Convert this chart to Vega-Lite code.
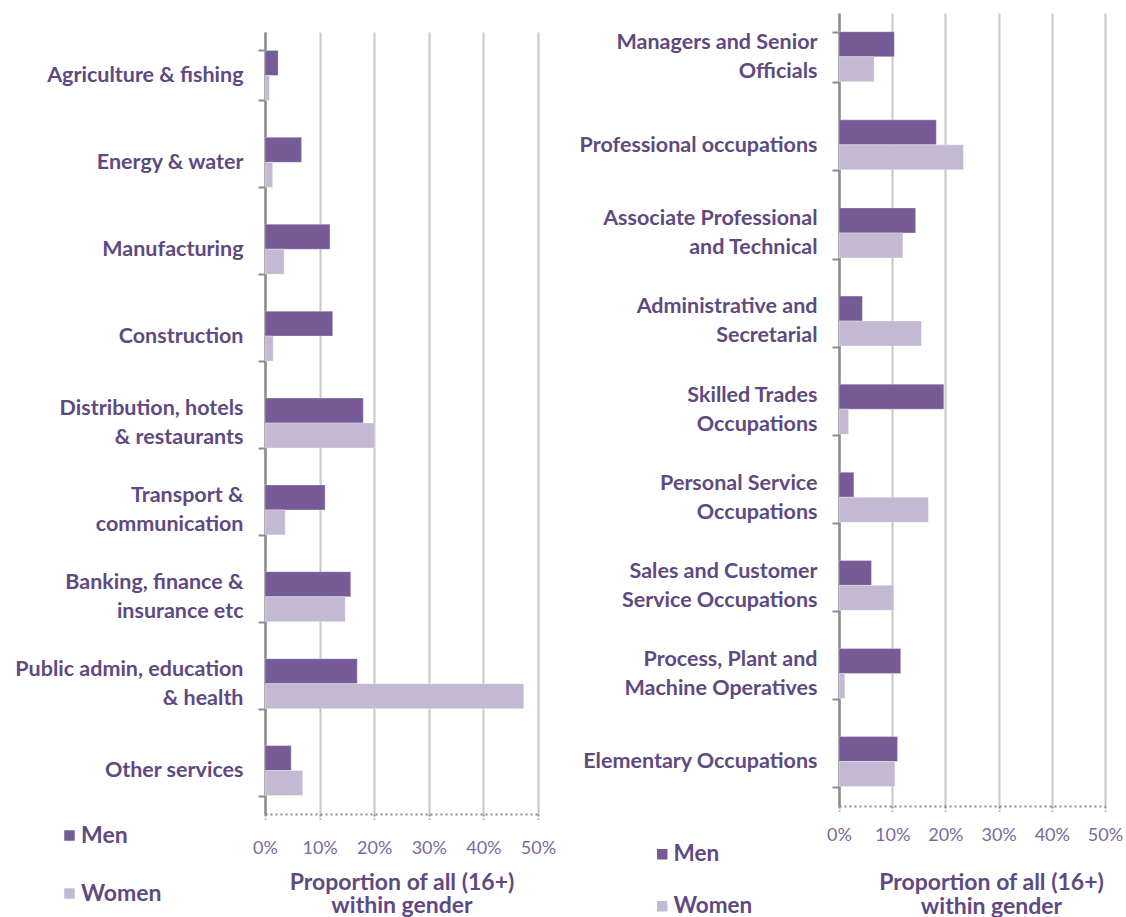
{
  "$schema": "https://vega.github.io/schema/vega-lite/v6.json",
  "padding": {"left": 14, "top": 2, "right": 0, "bottom": 0},
  "background": "white",
  "spacing": 23,
  "config": {
    "font": "Lato",
    "view": {"stroke": null},
    "legend": {"labelFont": "Lato"}
  },
  "resolve": {"legend": {"color": "independent"}, "scale": {"color": "independent"}},
  "datasets": {
    "industry": [
      {"cat": "Agriculture & fishing", "gender": "Men", "value": 0.024},
      {"cat": "Agriculture & fishing", "gender": "Women", "value": 0.008},
      {"cat": "Energy & water", "gender": "Men", "value": 0.067},
      {"cat": "Energy & water", "gender": "Women", "value": 0.014},
      {"cat": "Manufacturing", "gender": "Men", "value": 0.119},
      {"cat": "Manufacturing", "gender": "Women", "value": 0.035},
      {"cat": "Construction", "gender": "Men", "value": 0.124},
      {"cat": "Construction", "gender": "Women", "value": 0.015},
      {"cat": "Distribution, hotels|& restaurants", "gender": "Men", "value": 0.180},
      {"cat": "Distribution, hotels|& restaurants", "gender": "Women", "value": 0.201},
      {"cat": "Transport &|communication", "gender": "Men", "value": 0.110},
      {"cat": "Transport &|communication", "gender": "Women", "value": 0.037},
      {"cat": "Banking, finance &|insurance etc", "gender": "Men", "value": 0.157},
      {"cat": "Banking, finance &|insurance etc", "gender": "Women", "value": 0.147},
      {"cat": "Public admin, education|& health", "gender": "Men", "value": 0.169},
      {"cat": "Public admin, education|& health", "gender": "Women", "value": 0.474},
      {"cat": "Other services", "gender": "Men", "value": 0.048},
      {"cat": "Other services", "gender": "Women", "value": 0.069}
    ],
    "occupation": [
      {"cat": "Managers and Senior|Officials", "gender": "Men", "value": 0.104},
      {"cat": "Managers and Senior|Officials", "gender": "Women", "value": 0.066},
      {"cat": "Professional occupations", "gender": "Men", "value": 0.183},
      {"cat": "Professional occupations", "gender": "Women", "value": 0.234},
      {"cat": "Associate Professional|and Technical", "gender": "Men", "value": 0.144},
      {"cat": "Associate Professional|and Technical", "gender": "Women", "value": 0.120},
      {"cat": "Administrative and|Secretarial", "gender": "Men", "value": 0.044},
      {"cat": "Administrative and|Secretarial", "gender": "Women", "value": 0.155},
      {"cat": "Skilled Trades|Occupations", "gender": "Men", "value": 0.197},
      {"cat": "Skilled Trades|Occupations", "gender": "Women", "value": 0.018},
      {"cat": "Personal Service|Occupations", "gender": "Men", "value": 0.028},
      {"cat": "Personal Service|Occupations", "gender": "Women", "value": 0.168},
      {"cat": "Sales and Customer|Service Occupations", "gender": "Men", "value": 0.061},
      {"cat": "Sales and Customer|Service Occupations", "gender": "Women", "value": 0.103},
      {"cat": "Process, Plant and|Machine Operatives", "gender": "Men", "value": 0.116},
      {"cat": "Process, Plant and|Machine Operatives", "gender": "Women", "value": 0.011},
      {"cat": "Elementary Occupations", "gender": "Men", "value": 0.110},
      {"cat": "Elementary Occupations", "gender": "Women", "value": 0.105}
    ]
  },
  "hconcat": [
    {
      "spacing": 0,
      "vconcat": [
        {
          "width": 273,
          "height": 8,
          "data": {"values": [{"k": 1}]},
          "mark": {"type": "point", "opacity": 0, "size": 1},
          "encoding": {}
        },
        {
          "data": {"name": "industry"},
          "width": 273,
          "height": 782,
          "mark": {"type": "bar", "stroke": "white", "strokeWidth": 0.5, "strokeOpacity": 0.6},
          "encoding": {
            "y": {
              "field": "cat", "type": "nominal", "sort": null, "title": null,
              "scale": {"paddingInner": 0.425, "paddingOuter": 0.2125},
              "axis": {
                "labelExpr": "indexof(datum.label, '|') >= 0 ? [split(datum.label, '|')[0], '\u200b', split(datum.label, '|')[1]] : ['\u200b', datum.label]",
                "labelLineHeight": 14.5, "labelOffset": -14.5,
                "labelFont": "Lato", "labelFontSize": 21.5, "labelFontWeight": "bold",
                "labelColor": "#5e4a80", "labelPadding": 15, "labelLimit": 300,
                "tickBand": "extent", "tickSize": 7, "tickColor": "#8c8c8c", "tickWidth": 2,
                "domainColor": "#8c8c8c", "domainWidth": 2.5, "grid": false
              }
            },
            "yOffset": {"field": "gender", "type": "nominal", "sort": ["Men", "Women"], "scale": {"paddingInner": 0, "paddingOuter": 0}},
            "x": {
              "field": "value", "type": "quantitative",
              "scale": {"domain": [0, 0.5], "nice": false},
              "axis": {
                "values": [0, 0.1, 0.2, 0.3, 0.4, 0.5], "format": ".0%",
                "labelFlush": false, "labelOverlap": false,
                "title": ["Proportion of all (16+)", "within gender"],
                "titleFont": "Lato", "titleFontSize": 23, "titleFontWeight": "bold", "titleColor": "#5e4a80",
                "titleLineHeight": 23, "titlePadding": 14,
                "labelFont": "Lato", "labelFontSize": 18, "labelFontWeight": "normal", "labelColor": "#7a6a9c",
                "labelPadding": 20,
                "grid": true, "gridColor": "#c8c8c8", "gridWidth": 2,
                "domainColor": "#8c8c8c", "domainDash": [2, 3], "domainWidth": 2,
                "tickColor": "#8c8c8c", "tickDash": [2, 2], "tickSize": 5, "tickWidth": 2
              }
            },
            "color": {
              "field": "gender", "type": "nominal",
              "scale": {"domain": ["Men", "Women"], "range": ["#765b96", "#c4b9d3"]},
              "legend": {
                "title": null, "orient": "none", "legendX": -207, "legendY": 811,
                "symbolType": "square", "symbolSize": 110, "symbolStrokeWidth": 0,
                "labelFontSize": 23, "labelFontWeight": "bold", "labelColor": "#5e4a80",
                "rowPadding": 34, "labelOffset": 0
              }
            }
          }
        }
      ]
    },
    {
      "data": {"name": "occupation"},
      "width": 266,
      "height": 793,
      "mark": {"type": "bar", "stroke": "white", "strokeWidth": 0.5, "strokeOpacity": 0.6},
      "encoding": {
        "y": {
          "field": "cat", "type": "nominal", "sort": null, "title": null,
          "scale": {"paddingInner": 0.425, "paddingOuter": 0.2125},
          "axis": {
            "labelExpr": "indexof(datum.label, '|') >= 0 ? [split(datum.label, '|')[0], '\u200b', split(datum.label, '|')[1]] : ['\u200b', datum.label]",
            "labelLineHeight": 14.5, "labelOffset": -14.5,
            "labelFont": "Lato", "labelFontSize": 21.5, "labelFontWeight": "bold",
            "labelColor": "#5e4a80", "labelPadding": 15, "labelLimit": 300,
            "tickBand": "extent", "tickSize": 7, "tickColor": "#8c8c8c", "tickWidth": 2,
            "domainColor": "#8c8c8c", "domainWidth": 2.5, "grid": false
          }
        },
        "yOffset": {"field": "gender", "type": "nominal", "sort": ["Men", "Women"], "scale": {"paddingInner": 0, "paddingOuter": 0}},
        "x": {
          "field": "value", "type": "quantitative",
          "scale": {"domain": [0, 0.5], "nice": false},
          "axis": {
            "values": [0, 0.1, 0.2, 0.3, 0.4, 0.5], "format": ".0%",
            "labelFlush": false, "labelOverlap": false,
            "title": ["Proportion of all (16+)", "within gender"],
            "titleFont": "Lato", "titleFontSize": 23, "titleFontWeight": "bold", "titleColor": "#5e4a80",
            "titleLineHeight": 24, "titlePadding": 27, "titleX": 152,
            "labelFont": "Lato", "labelFontSize": 18, "labelFontWeight": "normal", "labelColor": "#7a6a9c",
            "labelPadding": 15,
            "grid": true, "gridColor": "#c8c8c8", "gridWidth": 2,
            "domainColor": "#8c8c8c", "domainDash": [2, 3], "domainWidth": 2,
            "tickColor": "#8c8c8c", "tickDash": [2, 2], "tickSize": 5, "tickWidth": 2
          }
        },
        "color": {
          "field": "gender", "type": "nominal",
          "scale": {"domain": ["Men", "Women"], "range": ["#765b96", "#c4b9d3"]},
          "legend": {
            "title": null, "orient": "none", "legendX": -188, "legendY": 830,
            "symbolType": "square", "symbolSize": 110, "symbolStrokeWidth": 0,
            "labelFontSize": 22.5, "labelFontWeight": "bold", "labelColor": "#5e4a80",
            "rowPadding": 29, "labelOffset": 0
          }
        }
      }
    }
  ]
}
